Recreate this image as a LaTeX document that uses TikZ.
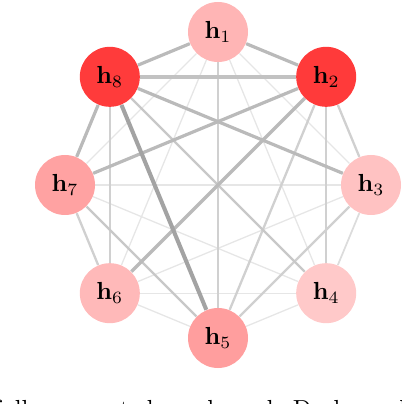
\documentclass[tikz,border=0pt]{standalone}
\usetikzlibrary{backgrounds}
\definecolor{cA}{HTML}{FFB5B5}
\definecolor{cB}{HTML}{FF3A3A}
\definecolor{cC}{HTML}{FFC2C2}
\definecolor{cD}{HTML}{FFC9C9}
\definecolor{cE}{HTML}{FF9E9E}
\definecolor{cF}{HTML}{FFB9B9}
\definecolor{cG}{HTML}{FFA2A2}
\definecolor{cH}{HTML}{FF3B3B}
\definecolor{gThin}{RGB}{230,230,230}
\definecolor{gLight}{RGB}{220,220,220}
\definecolor{gMed}{RGB}{208,208,208}
\definecolor{gMedD}{RGB}{200,200,200}
\definecolor{gThick}{RGB}{186,186,186}
\definecolor{gThickL}{RGB}{194,194,194}
\definecolor{gDark}{RGB}{163,163,163}
\tikzset{
  hnode/.style={circle, minimum size=24.3pt, inner sep=0pt},
  ethin/.style={draw=gThin, line width=0.53pt},
  elight/.style={draw=gLight, line width=0.7pt},
  emed/.style={draw=gMed, line width=0.93pt},
  emeddark/.style={draw=gMedD, line width=0.95pt},
  ethick/.style={draw=gThick, line width=1.3pt},
  ethickl/.style={draw=gThickL, line width=1.4pt},
  edark/.style={draw=gDark, line width=1.65pt},
}
\begin{document}
\begin{tikzpicture}[x=0.405pt, y=0.405pt]
\useasboundingbox (0,0) rectangle (402,404);
\begin{scope}[shift={(218,219)}]
\node[hnode, fill=cA] (h1) at (90:153)  {$\mathbf{h}_1$};
\node[hnode, fill=cB] (h2) at (45:153)  {$\mathbf{h}_2$};
\node[hnode, fill=cC] (h3) at (0:153)   {$\mathbf{h}_3$};
\node[hnode, fill=cD] (h4) at (-45:153) {$\mathbf{h}_4$};
\node[hnode, fill=cE] (h5) at (-90:153) {$\mathbf{h}_5$};
\node[hnode, fill=cF] (h6) at (-135:153){$\mathbf{h}_6$};
\node[hnode, fill=cG] (h7) at (180:153) {$\mathbf{h}_7$};
\node[hnode, fill=cH] (h8) at (135:153) {$\mathbf{h}_8$};
\end{scope}
\begin{scope}[on background layer]
% thin edges
\path[ethin] (h1) -- (h3);
\path[ethin] (h1) -- (h4);
\path[ethin] (h1) -- (h6);
\path[ethin] (h1) -- (h7);
\path[ethin] (h3) -- (h6);
\path[ethin] (h3) -- (h7);
\path[ethin] (h4) -- (h5);
\path[ethin] (h4) -- (h6);
\path[ethin] (h4) -- (h7);
\path[ethin] (h5) -- (h6);
\path[elight] (h3) -- (h4);
% medium edges
\path[emed] (h1) -- (h5);
\path[emed] (h2) -- (h3);
\path[emed] (h2) -- (h4);
\path[emed] (h2) -- (h5);
\path[emed] (h3) -- (h5);
\path[emed] (h6) -- (h7);
\path[emed] (h6) -- (h8);
\path[emeddark] (h4) -- (h8);
\path[emeddark] (h5) -- (h7);
% thick edges
\path[ethick] (h1) -- (h2);
\path[ethick] (h1) -- (h8);
\path[ethick] (h2) -- (h6);
\path[ethick] (h2) -- (h7);
\path[ethick] (h3) -- (h8);
\path[ethick] (h7) -- (h8);
\path[ethickl] (h2) -- (h8);
\path[edark] (h5) -- (h8);
\end{scope}
\node[anchor=base west, inner sep=0pt] (cap) at (-7,-13.6)
  {\spaceskip=2.17pt\xspaceskip=2.17pt fully connected graph, each. Darker red};
\end{tikzpicture}
\end{document}
